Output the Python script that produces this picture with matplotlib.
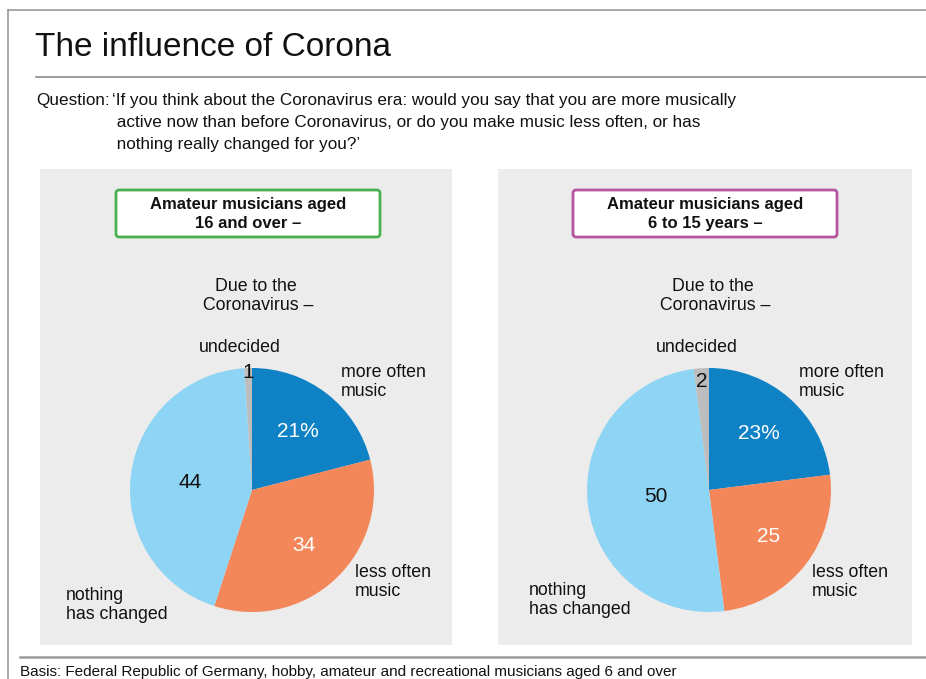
import matplotlib.pyplot as plt
from matplotlib import font_manager
from matplotlib.patches import Rectangle, FancyBboxPatch
import numpy as np

# survey shares in percent, clockwise from 12 o'clock
categories = ['more often music', 'less often music', 'nothing has changed', 'undecided']
adults = [21, 34, 44, 1]
kids = [23, 25, 50, 2]
value_labels_adults = ['21%', '34', '44', '1']
value_labels_kids = ['23%', '25', '50', '2']

title = 'The influence of Corona'
question_lines = ["\u2018If you think about the Coronavirus era: would you say that you are more musically",
                  " active now than before Coronavirus, or do you make music less often, or has",
                  " nothing really changed for you?\u2019"]
basis = 'Basis: Federal Republic of Germany, hobby, amateur and recreational musicians aged 6 and over'

colors = ['#0f82c6', '#f4875a', '#8ed4f4', '#bdbdbd']
text_colors = ['white', 'white', '#111111', '#111111']

W, H = 926, 679

installed = {f.name for f in font_manager.fontManager.ttflist}
narrow = 'Liberation Sans Narrow' if 'Liberation Sans Narrow' in installed else 'Liberation Sans'
plain = 'Liberation Sans'

fig = plt.figure(figsize=(W / 100, H / 100), dpi=100)
fig.patch.set_facecolor('white')

# full-size axes working in pixel units for the page furniture
bg = fig.add_axes([0, 0, 1, 1])
bg.set_xlim(0, W)
bg.set_ylim(H, 0)
bg.axis('off')

# frame and rules
bg.plot([8, W], [10, 10], color='#9a9a9a', lw=1.2)
bg.plot([8, 8], [10, H], color='#9a9a9a', lw=1.2)
bg.plot([36, W], [77, 77], color='#8a8a8a', lw=1.2)
bg.plot([20, W], [657, 657], color='#9a9a9a', lw=1.8)

bg.text(35, 47, title, fontsize=24, family=narrow, va='center', ha='left', color='#111111')
bg.text(36, 101, 'Question:', fontsize=12.3, family=narrow, va='center', ha='left', color='#111111')
for i, line in enumerate(question_lines):
    bg.text(112, 101 + 22 * i, line, fontsize=12.3, family=narrow, va='center', ha='left',
            color='#111111')
bg.text(20, 672, basis, fontsize=11, family=narrow, va='center', ha='left', color='#111111')


def panel(x0, x1, box_color, box_text, values, value_labels, center_x, label_dist,
          outer_pos):
    bg.add_patch(Rectangle((x0, 169), x1 - x0, 645 - 169, facecolor='#ececec',
                           edgecolor='none', zorder=0))
    bx = center_x - 136
    bg.add_patch(FancyBboxPatch((bx, 190), 264, 47, boxstyle='round,pad=0,rounding_size=3',
                                facecolor='white', edgecolor=box_color, lw=2, zorder=1))
    bg.text(bx + 132, 214, box_text, fontsize=12, fontweight='bold', family=plain,
            ha='center', va='center', linespacing=1.4, color='#111111', zorder=2)
    bg.text(center_x + 4, 296, 'Due to the\n Coronavirus \u2013', fontsize=12.8, family=plain,
            ha='center', va='center', linespacing=1.2, color='#111111')
    bg.text(center_x - 12, 348, 'undecided', fontsize=12.8, family=plain,
            ha='center', va='center', color='#111111')

    for (tx, ty), txt in zip(outer_pos, ['more often\nmusic', 'less often\nmusic',
                                          'nothing\nhas changed']):
        bg.text(tx, ty, txt, fontsize=12.8, family=plain, ha='left', va='center',
                linespacing=1.15, color='#111111')

    r = 122
    ax = fig.add_axes([(center_x - r) / W, (H - 490 - r) / H, 2 * r / W, 2 * r / H])
    wedges, _ = ax.pie(values, colors=colors, startangle=90, counterclock=False,
                       wedgeprops=dict(linewidth=0))
    ax.set_xlim(-1, 1)
    ax.set_ylim(-1, 1)
    ax.set_aspect('equal')
    ax.patch.set_visible(False)
    for w, txt, tc, d in zip(wedges, value_labels, text_colors, label_dist):
        mid = np.deg2rad((w.theta1 + w.theta2) / 2)
        ax.text(d * np.cos(mid), d * np.sin(mid), txt, fontsize=15, family=plain,
                ha='center', va='center', color=tc)


panel(40, 452, '#4caf50', 'Amateur musicians aged\n16 and over \u2013', adults,
      value_labels_adults, 252, [0.61, 0.62, 0.51, 0.96],
      [(341, 382), (355, 582), (66, 605)])
panel(498, 912, '#b5579f', 'Amateur musicians aged\n6 to 15 years \u2013', kids,
      value_labels_kids, 709, [0.62, 0.62, 0.44, 0.89],
      [(799, 382), (812, 582), (529, 600)])

fig.savefig('out.png', dpi=100)
